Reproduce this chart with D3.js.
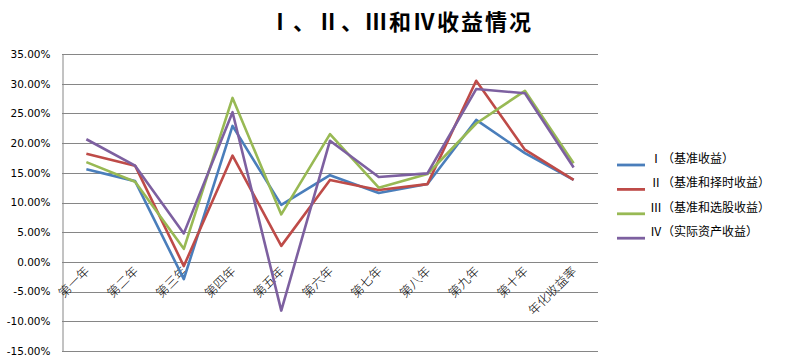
<!DOCTYPE html>
<meta charset="utf-8">
<script src="https://d3js.org/d3.v7.min.js"></script>
<style>
  body { margin: 0; background: #fff; }
</style>
<svg id="chart" width="791" height="364"></svg>
<script>
// categories and series (percent)
var years = ["第一年", "第二年", "第三年", "第四年", "第五年", "第六年", "第七年", "第八年", "第九年", "第十年", "年化收益率"];
var seriesNames = ["Ⅰ（基准收益）", "Ⅱ（基准和择时收益）", "Ⅲ（基准和选股收益）", "Ⅳ（实际资产收益）"];
var s1 = [15.6, 13.6, -2.9, 22.9, 9.6, 14.6, 11.6, 13.1, 23.9, 18.3, 13.8];
var s2 = [18.2, 16.2, -0.7, 17.9, 2.7, 13.8, 12.1, 13.1, 30.5, 18.9, 13.8];
var s3 = [16.8, 13.5, 2.2, 27.6, 8.0, 21.5, 12.5, 14.8, 23.3, 28.8, 16.6];
var s4 = [20.65, 16.2, 4.8, 25.2, -8.2, 20.4, 14.3, 14.9, 29.1, 28.4, 15.9];
var yTicks = [-15, -10, -5, 0, 5, 10, 15, 20, 25, 30, 35];
var colors = ["#4a7ebb", "#be4b48", "#98b954", "#7d60a0"];

var svg = d3.select("#chart");
var plotL = 62, plotR = 598, plotT = 54, plotB = 351;

var x = d3.scaleBand().domain(years).range([plotL, plotR]);
var y = d3.scaleLinear().domain([-15, 35]).range([plotB, plotT]);

// title
svg.append("text")
    .attr("x", 401).attr("y", 30)
    .attr("text-anchor", "middle")
    .style("font-family", "'Noto Sans CJK SC', sans-serif")
    .style("font-size", "22px")
    .style("font-weight", "bold")
    .style("letter-spacing", "2px")
    .text("Ⅰ、Ⅱ、Ⅲ和Ⅳ收益情况");

// gridlines
svg.append("g").selectAll("line")
  .data(yTicks)
  .enter().append("line")
    .attr("x1", plotL).attr("x2", plotR)
    .attr("y1", function(d){ return Math.round(y(d)) + 0.5 })
    .attr("y2", function(d){ return Math.round(y(d)) + 0.5 })
    .style("stroke", "#868686")
    .style("stroke-width", 1);

// y axis
var yAxis = svg.append("g")
    .attr("transform", "translate(" + (plotL + 0.5) + ",0)")
    .call(d3.axisLeft(y).tickValues(yTicks).tickSize(0).tickPadding(12)
      .tickFormat(function(d){ return d.toFixed(2) + "%" }));
yAxis.select(".domain").style("stroke", "#868686");
yAxis.selectAll("text")
    .style("font-family", "'DejaVu Sans', sans-serif")
    .style("font-size", "10.5px")
    .style("fill", "#000");

// x labels, rotated
svg.append("g").selectAll("text")
  .data(years)
  .enter().append("text")
    .attr("transform", function(d){
      return "translate(" + (x(d) + x.bandwidth() / 2 + 4) + "," + (y(0) + 10) + ") rotate(-45)";
    })
    .attr("text-anchor", "end")
    .style("font-family", "'Noto Sans CJK SC', sans-serif")
    .style("font-size", "12.5px")
    .style("font-weight", "300")
    .text(function(d){ return d });

// lines
var line = d3.line()
    .x(function(d, i){ return x(years[i]) + x.bandwidth() / 2 })
    .y(function(d){ return y(d) });

[s1, s2, s3, s4].forEach(function(s, i){
  svg.append("path")
      .datum(s)
      .attr("d", line)
      .style("fill", "none")
      .style("stroke", colors[i])
      .style("stroke-width", 2.6)
      .style("stroke-linejoin", "round");
});

// legend
var legend = svg.append("g").selectAll("g")
  .data(seriesNames)
  .enter().append("g")
    .attr("transform", function(d, i){ return "translate(617," + (165 + i * 24.4) + ")" });
legend.append("line")
    .attr("x1", 0).attr("x2", 28)
    .style("stroke", function(d, i){ return colors[i] })
    .style("stroke-width", 2.8);
legend.append("text")
    .attr("x", 33).attr("y", -2)
    .style("font-family", "'Noto Sans CJK SC', sans-serif")
    .style("font-size", "12px")
    .text(function(d){ return d });
</script>
